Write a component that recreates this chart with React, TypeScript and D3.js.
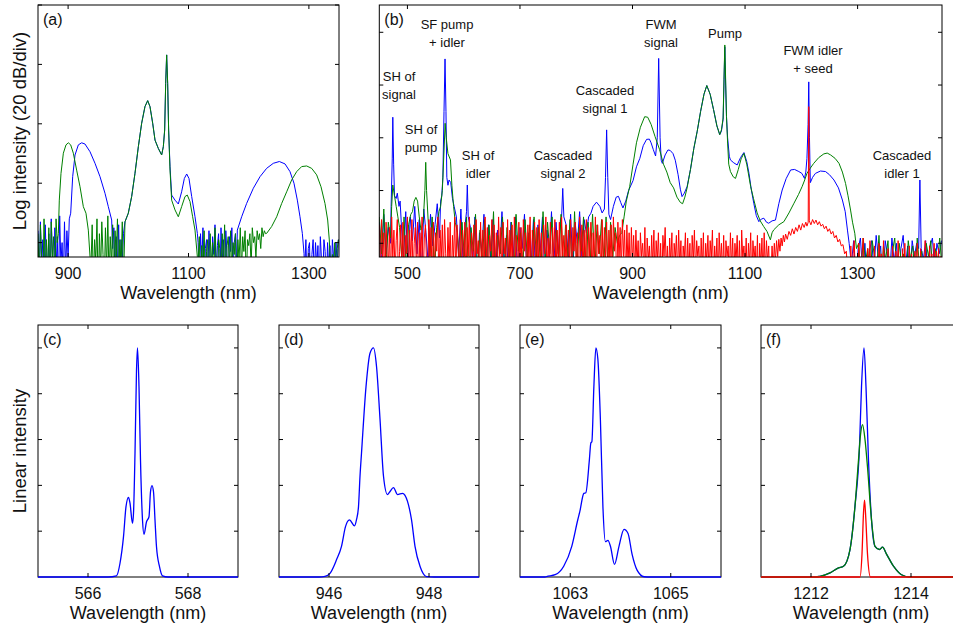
import React from 'react';
import * as d3 from 'd3';

type Pt = [number, number];

// noise runs: typed levels (dB below 0) on a regular wavelength grid
const run = (start: number, step: number, levels: number[]): Pt[] =>
  levels.map((v, i) => [start + i * step, -v]);

// ---------- panel (a): log spectra, 850-1350 nm ----------
const aBlueNoise1 = run(850, 2, [76, 92, 73, 88, 79, 95, 74, 86, 90, 77, 99, 72, 84, 93, 75, 89, 78, 96, 71, 87, 80, 94, 73, 90, 76, 85, 72]);
const aBlueLeft: Pt[] = [[904.3, -70.1], [907.6, -57.8], [911.5, -50.5], [917, -47.1], [922.5, -46.4], [928, -46.8], [936.4, -49.4], [944.7, -53.3], [953, -57.8], [961.3, -63.4], [966.8, -67.9], [972.4, -72.4]];
const aBlueNoise2 = run(974, 2, [82, 75, 92, 78, 88, 74, 96, 79, 86, 77]);
const aCentre: Pt[] = [[994.5, -73], [1000, -70.1], [1005.6, -64.5], [1011.1, -56.7], [1016.7, -47.7], [1022.2, -39.8], [1027.7, -34.2], [1032.2, -32.2], [1036, -34.2], [1040.5, -39.8], [1044.4, -45.5], [1049.9, -48.3], [1055.4, -50.5], [1058.2, -47.7], [1060.4, -42.1], [1062.1, -26.4], [1063.7, -16.8], [1065.4, -26.4], [1067, -42.1]];
const aBlueMid: Pt[] = [[1069.3, -54.4], [1072, -64], [1077.6, -65.7], [1083.1, -67], [1088.6, -62.9], [1093.1, -58.4], [1097, -56.9], [1100.8, -58.4], [1105.3, -64.5], [1110.8, -71.3], [1114.7, -76.9]];
const aBlueNoise3 = run(1116, 2, [80, 94, 77, 88, 75, 97, 82, 79, 91, 76, 86, 99, 78, 84, 74, 93, 81, 77, 96, 75, 87, 79, 92, 76, 85, 98, 78, 83, 75, 90, 80, 77, 88]);
const aBlueRight: Pt[] = [[1181.1, -75.8], [1188.3, -71.3], [1196.6, -66.8], [1207.7, -61.7], [1218.8, -57.8], [1229.8, -55], [1240.9, -53.3], [1250.9, -52.7], [1260.3, -53.5], [1268.6, -56.1], [1275.2, -60], [1280.8, -65.7], [1285.2, -71.3], [1289.1, -76.9], [1291.9, -83.6]];
const aBlueNoise4 = run(1293, 2, [90, 79, 95, 82, 80, 99, 84, 79, 92, 80, 88, 81, 96, 78, 86, 93, 79, 83, 97, 80, 89, 81, 94, 79, 85, 91, 80, 87, 79]);

const aGreenNoise1 = run(850, 2, [77, 93, 74, 85, 96, 72, 88, 79, 91, 75, 99, 73, 86, 78, 94, 72, 80]);
const aGreenLeft: Pt[] = [[883.8, -76.9], [885.4, -65.7], [888.2, -56.7], [892.1, -49.9], [896.5, -47.1], [900.4, -46.4], [904.3, -47.1], [908.7, -49.9], [914.2, -55.6], [919.8, -61.2], [925.3, -67.9], [929.7, -70.1], [933.6, -75.8], [936.4, -84.7]];
const aGreenNoise2 = run(938, 2, [88, 74, 95, 79, 86, 72, 98, 77, 90, 73, 84, 96, 75, 89, 71, 93, 78, 87, 74, 99, 76, 85, 72, 91, 79, 88, 73, 94]);
const aGreenMid: Pt[] = [[1069.3, -55.6], [1072, -65.7], [1077.6, -69], [1083.1, -71.3], [1088.6, -67.9], [1094.2, -64.5], [1098, -64], [1102.5, -66.2], [1106.9, -71.3], [1110.8, -75.8], [1114.7, -84.7]];
const aGreenNoise3 = run(1116, 2, [86, 78, 97, 81, 90, 76, 94, 83, 79, 99, 77, 88, 80, 93, 75, 85, 96, 79, 82, 91, 77, 87, 74, 95, 81, 78, 89, 76, 92, 80, 84, 77, 98, 79, 86, 75, 90, 78, 83, 76, 94, 79, 81, 77, 88, 75, 80, 78, 85, 76, 79, 77, 82, 75, 78, 76, 77]);
const aGreenRight: Pt[] = [[1229.8, -76.9], [1238.1, -74.6], [1246.5, -71.3], [1254.8, -66.8], [1263.1, -62.9], [1271.4, -58.9], [1279.7, -56.1], [1288, -54.4], [1296.3, -54.2], [1304.6, -55], [1312.9, -57.2], [1320.1, -61.2], [1326.7, -66.8], [1331.2, -72.4], [1333.9, -79.1], [1335, -84.7]];
const aGreenNoise4 = run(1337, 2, [95, 84, 90, 80, 97, 82, 79]);

// ---------- panel (b): log spectra, 450-1450 nm ----------
const bBlueNoise1 = run(450, 4, [72, 88, 69, 84, 74, 80]);
const bBlueSHs: Pt[] = [[471, -66], [473, -48], [474, -32.2], [475.5, -50], [477, -62], [480, -63], [482, -61], [485, -66], [487, -64]];
const bBlueNoise2 = run(489, 4, [72, 86, 68, 90, 70, 79, 66, 84, 71, 93, 67, 76, 88, 69, 81, 73, 65, 78]);
const bBlueSF: Pt[] = [[559, -64], [561, -62], [563, -55], [565, -30], [566.8, -10.1], [568.5, -30], [570, -55], [572, -58], [574, -56], [577, -57], [580, -63], [583, -66]];
const bBlueNoise3 = run(587, 4, [70, 85, 67, 88, 72]);
const bBlueSHi: Pt[] = [[605, -68], [606.4, -57.9], [608, -70]];
const bBlueNoise4 = run(612, 4, [74, 88, 70, 95, 76, 83, 69, 91, 73, 86, 71, 97, 75, 84, 68, 89, 77, 93, 72, 85, 70, 96, 74, 82, 69, 90, 76, 87, 71, 94, 73, 83, 70, 92, 75, 86, 68, 89, 72, 84, 71]);
const bBlueCs2: Pt[] = [[774, -70], [776, -59.2], [778, -70]];
const bBlueNoise5 = run(782, 4, [73, 86, 69, 90, 72, 80, 68, 85, 71, 76, 70]);
const bBlueMain: Pt[] = [[826, -68.6], [830, -66], [836, -64.4], [842, -66], [846, -68.5], [850, -67], [852, -55], [854, -37], [856, -55], [858, -69], [861, -71], [866, -66], [871, -62.5], [875, -62.2], [879, -64.5], [883, -66.6], [888, -64], [893, -60], [901, -56.2], [907, -51], [913, -47.8], [919, -43], [925, -40.6], [930, -40.5], [933, -41.9], [937, -44.5], [941, -46.9], [944, -40], [946.5, -9.9], [949, -40], [951, -48.5], [953, -49.7], [958, -46.5], [963, -44.6], [967, -44.8], [972, -46], [976, -48.5], [981, -54], [985, -59.5], [988, -62.3], [992, -61], [997, -58.5], [1003, -52], [1009, -44], [1015, -37.5], [1021, -30], [1027, -23.5], [1032, -20.2], [1038, -23.5], [1044, -29.3], [1050, -35.5], [1055, -38.8], [1058, -37.5], [1061, -33], [1062.5, -20], [1064, -5.5], [1065.5, -20], [1067, -32], [1069, -40], [1072, -47], [1074, -48.4], [1080, -49.5], [1086, -50.3], [1092, -47.5], [1098, -45.6], [1103, -49], [1107, -53.5], [1111, -59.5], [1115.5, -64.8], [1120, -69.5], [1124.5, -71.8], [1129, -70.8], [1133.4, -70.5], [1138, -72], [1142, -72.4], [1148, -71.5], [1154, -71.2], [1160, -65], [1166, -59.8], [1173, -55.5], [1181, -52.2], [1188, -52], [1195.6, -52.8], [1201, -53.5], [1205.6, -55.4], [1208, -53], [1210, -47.8], [1212, -35], [1213.2, -18.8], [1214.5, -40], [1216, -57], [1220, -55], [1225, -53.5], [1234, -52.6], [1243, -52.8], [1250, -54], [1258, -56], [1266, -59], [1273, -63.6], [1278, -68], [1282, -75], [1285, -80]];
const bBlueNoise6 = run(1289, 4, [88, 79, 95, 82, 78, 91, 80, 97, 83, 79, 90, 77, 86, 81, 99, 79, 84, 92, 78, 87, 80, 96, 82, 77, 89, 81, 94, 79, 85, 80]);
const bBlueCi1: Pt[] = [[1408.5, -82], [1410.7, -56], [1413, -82]];
const bBlueNoise7 = run(1417, 4, [86, 79, 93, 81, 78, 90, 80, 84, 79]);

const bGreenNoise1 = run(450, 4, [70, 84, 67, 89, 72, 78]);
const bGreenSHs: Pt[] = [[472, -66], [474, -57.9], [477, -62], [480, -66], [483, -70]];
const bGreenNoise2 = run(486, 4, [74, 86, 70, 91, 73, 69]);
const bGreenSHp: Pt[] = [[509, -68], [512, -64], [515, -62.6], [518, -64], [521, -70], [524, -75], [528, -72], [531, -60], [532.5, -49.3], [534, -60], [537, -72]];
const bGreenNoise3 = run(540, 4, [85, 70, 92, 74, 68]);
const bGreenSF: Pt[] = [[559, -66], [562, -60], [565, -45], [567, -34.5], [569, -40], [572, -46], [576.5, -48.4], [579, -58], [582, -66], [585, -72]];
const bGreenNoise4 = run(589, 4, [76, 90, 72, 85, 70, 97, 74, 83, 69, 92, 75, 88, 71, 94, 73, 86, 68, 99, 77, 84, 70, 91, 74, 87, 72, 95, 69, 83, 76, 90, 71, 86, 73, 98, 70, 85, 74, 92, 68, 88, 72, 84, 70, 96, 75, 87, 69, 91, 73, 85, 71, 94, 68, 89, 74, 83, 70, 97, 72, 86, 69, 90, 73, 84, 71, 88, 70, 93, 72, 85, 74, 80, 77]);
const bGreenMain: Pt[] = [[881, -76], [885, -70], [889, -64], [895, -58.5], [901, -50], [907, -41.9], [914, -36], [921.6, -32], [927, -32.2], [933, -34.9], [940, -39.5], [948, -44.4], [955, -50], [961, -53], [967, -57], [973, -59], [979, -62.5], [985, -64.5], [989, -65], [993, -62.5], [997, -59], [1003, -52], [1009, -44], [1015, -37.5], [1021, -30], [1027, -23.5], [1032, -20.2], [1038, -23.5], [1044, -29.3], [1050, -35.5], [1055, -38.8], [1058, -37], [1061, -32.5], [1062.5, -18], [1064, -4.8], [1065.5, -18], [1067, -32], [1069, -42], [1071, -50], [1074, -52.8], [1079, -54.8], [1083, -55.4], [1088, -52], [1093, -48], [1098, -45.9], [1103, -50], [1110, -58.5], [1115, -63], [1121.5, -68.5], [1127, -71.5], [1133, -73.6], [1139, -75.5], [1145, -78.7], [1148, -76], [1151, -74.9], [1160, -73], [1169, -71.8], [1178, -68.5], [1187, -64.8], [1195, -61.5], [1201.6, -58.4], [1206, -56], [1210, -53.5], [1216, -51.5], [1222, -49.7], [1231, -47.5], [1240, -46.1], [1246, -45.8], [1252, -46.5], [1260, -47.8], [1267, -49.7], [1273, -53], [1278.6, -57.3], [1283, -62], [1287.5, -67.4], [1291, -72], [1295, -76.2], [1298, -82]];
const bGreenNoise5 = run(1302, 4, [80, 93, 78, 87, 82, 98, 79, 85, 90, 77, 94, 81, 86, 79, 97, 83, 78, 91, 80, 88, 84, 96, 79, 86, 81, 92, 78, 89, 83, 99, 80, 85, 79, 93, 82, 87, 78, 90]);

// red (seed only) floor, 450-900 nm
const bRedNoise1 = run(450, 2, [
  73, 94, 71, 88, 76, 99, 72, 85, 90, 74, 97, 70, 86, 75, 92, 79, 71, 96, 83, 73,
  89, 72, 98, 77, 84, 70, 93, 75, 87, 71, 95, 80, 74, 91, 72, 99, 76, 86, 70, 94,
  78, 73, 88, 96, 71, 85, 74, 97, 72, 90, 76, 83, 70, 98, 75, 87, 73, 92, 71, 84,
  95, 74, 89, 72, 99, 77, 86, 70, 93, 73, 81, 96, 71, 88, 75, 91, 72, 97, 74, 85,
  70, 94, 76, 87, 73, 98, 71, 84, 79, 92, 72, 89, 75, 96, 70, 86, 74, 93, 77, 83,
  71, 99, 73, 88, 76, 91, 70, 85, 74, 97, 72, 84, 78, 95, 71, 90, 75, 87, 73, 98,
  70, 86, 77, 93, 72, 89, 74, 96, 71, 83, 76, 94, 73, 88, 70, 99, 75, 85, 72, 91,
  74, 97, 71, 87, 76, 92, 73, 84, 70, 95, 78, 89, 72, 98, 74, 86, 71, 93, 75, 88,
  72, 96, 70, 85, 77, 91, 73, 99, 75, 87, 71, 94, 74, 83, 72, 90, 76, 97, 70, 86,
  73, 92, 75, 88, 71, 98, 74, 85, 72, 95, 76, 89, 70, 93, 73, 84, 77, 97, 71, 90,
  74, 86, 72, 96, 75, 88, 73, 94, 70, 83, 76, 99, 72, 87, 74, 92, 71, 85, 75, 97,
  73, 89, 76, 94, 74, 88,
]);
// red floor, 902-1144 nm (slightly lower)
const bRedNoise2 = run(902, 2, [
  77, 93, 75, 88, 79, 97, 76, 85, 80, 91, 74, 99, 78, 86, 81, 94, 77, 89, 75, 96,
  79, 87, 76, 92, 80, 98, 77, 85, 74, 90, 81, 95, 78, 88, 76, 99, 80, 86, 77, 93,
  75, 89, 79, 97, 81, 86, 76, 94, 78, 91, 80, 99, 77, 87, 75, 92, 79, 85, 81, 96,
  78, 90, 76, 98, 80, 87, 77, 93, 79, 86, 75, 95, 81, 89, 78, 97, 76, 88, 80, 92,
  77, 99, 79, 85, 81, 94, 76, 90, 78, 96, 80, 87, 77, 93, 79, 98, 75, 86, 81, 91,
  78, 95, 80, 88, 76, 97, 79, 86, 81, 93, 77, 99, 80, 89, 78, 94, 76, 92, 79, 87,
  81, 96,
]);
const bRedHump: Pt[] = [[1146, -92], [1148, -81], [1150, -90], [1152, -80], [1154, -87], [1156, -79], [1158, -85], [1160, -78.5], [1162, -83], [1164, -78], [1166, -81], [1168, -77], [1170, -79.5], [1172, -76.5], [1175, -78.5], [1178, -75.5], [1181, -77], [1184, -74.5], [1187, -76.5], [1190, -74], [1193, -75.5], [1196, -73], [1199, -75], [1202, -72.5], [1205, -74], [1208, -72], [1210, -73.5], [1212.2, -72], [1213.2, -28.2], [1214.2, -71.5], [1217, -73], [1220, -71], [1223, -72.5], [1226, -71.2], [1229, -73], [1232, -71.8], [1235, -73.5], [1238, -72.8], [1241, -74.5], [1244, -73.5], [1247, -75.5], [1250, -74.5], [1253, -76.5], [1256, -75.5], [1259, -78], [1262, -77], [1265, -79.5], [1268, -78.5], [1271, -81], [1274, -80.5], [1277, -84], [1280, -83], [1282, -90]];
const bRedNoise3 = run(1286, 2, [
  95, 81, 99, 84, 79, 92, 86, 100, 80, 89, 97, 83, 78, 94, 88, 99, 82, 91, 79, 96,
  85, 100, 81, 93, 87, 98, 80, 90, 84, 97, 79, 92, 88, 100, 82, 95, 86, 99, 81, 89,
  96, 83, 100, 79, 91, 85, 98, 82, 94, 80, 99, 87, 93, 81, 97, 84, 90, 100, 83, 95,
  80, 88, 99, 82, 94, 86, 100, 79, 91, 85, 97, 81, 93, 84, 98, 80, 90, 83, 96, 82,
  99, 85, 92,
]);

// ---------- panels (c)-(f): linear zooms on single lines ----------
const cBlue: Pt[] = [[565, 0], [566.4, 0], [566.57, 0.005], [566.64, 0.06], [566.71, 0.176], [566.76, 0.307], [566.81, 0.348], [566.84, 0.322], [566.89, 0.234], [566.91, 0.278], [566.94, 0.54], [566.97, 0.9], [566.99, 1.0], [567.02, 0.83], [567.05, 0.51], [567.09, 0.249], [567.12, 0.186], [567.17, 0.241], [567.22, 0.263], [567.25, 0.372], [567.28, 0.399], [567.31, 0.372], [567.34, 0.249], [567.37, 0.132], [567.43, 0.045], [567.49, 0.005], [567.6, 0], [569, 0]];
const dBlue: Pt[] = [[945, 0], [945.8, 0], [945.92, 0.003], [946.02, 0.016], [946.15, 0.075], [946.25, 0.134], [946.33, 0.22], [946.41, 0.249], [946.51, 0.223], [946.55, 0.25], [946.59, 0.307], [946.62, 0.44], [946.65, 0.54], [946.74, 0.83], [946.82, 0.977], [946.89, 1.0], [946.95, 0.92], [947.02, 0.69], [947.09, 0.44], [947.17, 0.36], [947.21, 0.37], [947.29, 0.39], [947.37, 0.36], [947.47, 0.365], [947.57, 0.33], [947.65, 0.25], [947.72, 0.134], [947.82, 0.047], [947.95, 0.002], [948.1, 0], [949, 0]];
const eBlue: Pt[] = [[1062, 0], [1062.5, 0], [1062.53, 0.002], [1062.7, 0.01], [1062.87, 0.047], [1063.03, 0.134], [1063.15, 0.25], [1063.19, 0.285], [1063.27, 0.365], [1063.31, 0.368], [1063.38, 0.51], [1063.41, 0.585], [1063.43, 0.59], [1063.47, 0.83], [1063.51, 1.0], [1063.55, 0.95], [1063.6, 0.686], [1063.65, 0.307], [1063.7, 0.154], [1063.75, 0.16], [1063.8, 0.134], [1063.88, 0.055], [1063.97, 0.134], [1064.07, 0.208], [1064.15, 0.19], [1064.23, 0.1], [1064.33, 0.03], [1064.47, 0.001], [1064.6, 0], [1066, 0]];
const fBlue: Pt[] = [[1211, 0], [1212.1, 0], [1212.18, 0.003], [1212.38, 0.018], [1212.55, 0.04], [1212.65, 0.047], [1212.78, 0.12], [1212.88, 0.31], [1212.97, 0.57], [1213.01, 0.83], [1213.06, 1.0], [1213.1, 0.83], [1213.15, 0.51], [1213.21, 0.25], [1213.28, 0.134], [1213.37, 0.12], [1213.43, 0.13], [1213.51, 0.1], [1213.65, 0.047], [1213.81, 0.01], [1213.98, 0], [1215, 0]];
const fGreen: Pt[] = [[1211, 0], [1212.1, 0], [1212.18, 0.003], [1212.38, 0.018], [1212.55, 0.04], [1212.65, 0.047], [1212.78, 0.12], [1212.88, 0.31], [1212.95, 0.51], [1212.99, 0.62], [1213.03, 0.665], [1213.08, 0.6], [1213.13, 0.48], [1213.21, 0.25], [1213.28, 0.134], [1213.37, 0.12], [1213.43, 0.13], [1213.51, 0.1], [1213.65, 0.047], [1213.81, 0.01], [1213.98, 0], [1215, 0]];
const fRed: Pt[] = [[1211, 0], [1212.98, 0], [1213.02, 0.1], [1213.05, 0.28], [1213.07, 0.336], [1213.09, 0.28], [1213.13, 0.1], [1213.19, 0], [1215, 0]];

const logTicks = [-80, -60, -40, -20, 0];
const linTicks = [0.2, 0.4, 0.6, 0.8, 1.0];

const annotations = [
  { lines: ['SH of', 'signal'], x: 399, y: 81 },
  { lines: ['SF pump', '+ idler'], x: 447, y: 29 },
  { lines: ['SH of', 'pump'], x: 421, y: 134 },
  { lines: ['SH of', 'idler'], x: 478, y: 160 },
  { lines: ['Cascaded', 'signal 2'], x: 563, y: 160 },
  { lines: ['Cascaded', 'signal 1'], x: 605, y: 95 },
  { lines: ['FWM', 'signal'], x: 661, y: 29 },
  { lines: ['Pump'], x: 725, y: 38 },
  { lines: ['FWM idler', '+ seed'], x: 813, y: 55 },
  { lines: ['Cascaded', 'idler 1'], x: 902, y: 160 },
];

const BLUE = '#0000ff';
const GREEN = '#008000';
const RED = '#ff0000';
const FONT = '"Liberation Sans", Arial, Helvetica, sans-serif';

type Series = { pts: Pt[]; color: string };
type Box = { l: number; r: number; t: number; b: number };

function Panel({ id, box, xDomain, yDomain, xTicks, yTicks, series, tag, smooth, children }: {
  id: string; box: Box; xDomain: [number, number]; yDomain: [number, number];
  xTicks: number[]; yTicks: number[]; series: Series[]; tag: string; smooth?: boolean;
  children?: React.ReactNode;
}) {
  const x = d3.scaleLinear().domain(xDomain).range([box.l, box.r]);
  const y = d3.scaleLinear().domain(yDomain).range([box.b, box.t]);
  const line = d3.line<Pt>()
    .x(d => x(d[0]))
    .y(d => y(d[1]))
    .curve(smooth ? d3.curveMonotoneX : d3.curveLinear);
  const tl = 4;

  const frame = (
    <rect x={box.l} y={box.t} width={box.r - box.l} height={box.b - box.t} fill="none" stroke="#000" strokeWidth={1} />
  );
  const data = (
    <g clipPath={`url(#${id})`}>
      {series.map((s, i) => (
        <path key={i} d={line(s.pts) || ''} fill="none" stroke={s.color} strokeWidth={smooth ? 1.3 : 1} strokeLinejoin="round" />
      ))}
    </g>
  );

  return (
    <g>
      <defs>
        <clipPath id={id}>
          <rect x={box.l} y={box.t - 1} width={box.r - box.l} height={box.b - box.t + (smooth ? 2 : 1)} />
        </clipPath>
      </defs>
      {smooth ? frame : null}
      {data}
      {!smooth ? frame : null}
      {xTicks.map(t => (
        <g key={'x' + t}>
          <line x1={x(t)} x2={x(t)} y1={box.b} y2={box.b - tl} stroke="#000" />
          <line x1={x(t)} x2={x(t)} y1={box.t} y2={box.t + tl} stroke="#000" />
          <text x={x(t)} y={box.b + 21.5} textAnchor="middle" fontSize={16} fontFamily={FONT} fill="#111">{t}</text>
        </g>
      ))}
      {yTicks.map(t => (
        <g key={'y' + t}>
          <line x1={box.l} x2={box.l + tl} y1={y(t)} y2={y(t)} stroke="#000" />
          <line x1={box.r} x2={box.r - tl} y1={y(t)} y2={y(t)} stroke="#000" />
        </g>
      ))}
      <text x={(box.l + box.r) / 2} y={box.b + 41.5} textAnchor="middle" fontSize={18} fontFamily={FONT} fill="#111">Wavelength (nm)</text>
      <text x={box.l + 5} y={box.t + 20} fontSize={16} fontFamily={FONT} fill="#111">{tag}</text>
      {children}
    </g>
  );
}

export default function App() {
  const aBlue = [...aBlueNoise1, ...aBlueLeft, ...aBlueNoise2, ...aCentre, ...aBlueMid, ...aBlueNoise3, ...aBlueRight, ...aBlueNoise4];
  const aGreen = [...aGreenNoise1, ...aGreenLeft, ...aGreenNoise2, ...aCentre, ...aGreenMid, ...aGreenNoise3, ...aGreenRight, ...aGreenNoise4];
  const bBlue = [...bBlueNoise1, ...bBlueSHs, ...bBlueNoise2, ...bBlueSF, ...bBlueNoise3, ...bBlueSHi, ...bBlueNoise4, ...bBlueCs2, ...bBlueNoise5, ...bBlueMain, ...bBlueNoise6, ...bBlueCi1, ...bBlueNoise7];
  const bGreen = [...bGreenNoise1, ...bGreenSHs, ...bGreenNoise2, ...bGreenSHp, ...bGreenNoise3, ...bGreenSF, ...bGreenNoise4, ...bGreenMain, ...bGreenNoise5];
  const bRed = [...bRedNoise1, ...bRedNoise2, ...bRedHump, ...bRedNoise3];

  const top = { t: 5, b: 257 };
  const bot = { t: 325, b: 577 };

  return (
    <svg width={953} height={624} style={{ position: 'absolute', left: 0, top: 0, background: '#fff' }}>
      <rect width={953} height={624} fill="#fff" />
      <text transform="translate(26,131) rotate(-90)" textAnchor="middle" fontSize={18.5} fontFamily={FONT} fill="#111">Log intensity (20 dB/div)</text>
      <text transform="translate(26,451) rotate(-90)" textAnchor="middle" fontSize={18.5} fontFamily={FONT} fill="#111">Linear intensity</text>

      <Panel id="pa" box={{ l: 38, r: 339, ...top }} xDomain={[850, 1350]} yDomain={[-84.85, 0]}
        xTicks={[900, 1100, 1300]} yTicks={logTicks} tag="(a)"
        series={[{ pts: aBlue, color: BLUE }, { pts: aGreen, color: GREEN }]} />

      <Panel id="pb" box={{ l: 379.3, r: 942, ...top }} xDomain={[450, 1450]} yDomain={[-85.2, 10.35]}
        xTicks={[500, 700, 900, 1100, 1300]} yTicks={logTicks} tag="(b)"
        series={[{ pts: bBlue, color: BLUE }, { pts: bGreen, color: GREEN }, { pts: bRed, color: RED }]}>
        {annotations.map((a, i) => (
          <text key={i} textAnchor="middle" fontSize={13} fontFamily={FONT} fill="#111">
            {a.lines.map((s, j) => (
              <tspan key={j} x={a.x} y={a.y + j * 18}>{s}</tspan>
            ))}
          </text>
        ))}
      </Panel>

      <Panel id="pc" box={{ l: 38, r: 238, ...bot }} xDomain={[565, 569]} yDomain={[0, 1.1]}
        xTicks={[566, 568]} yTicks={linTicks} tag="(c)" smooth
        series={[{ pts: cBlue, color: BLUE }]} />
      <Panel id="pd" box={{ l: 279, r: 479, ...bot }} xDomain={[945, 949]} yDomain={[0, 1.1]}
        xTicks={[946, 948]} yTicks={linTicks} tag="(d)" smooth
        series={[{ pts: dBlue, color: BLUE }]} />
      <Panel id="pe" box={{ l: 520, r: 721, ...bot }} xDomain={[1062, 1066]} yDomain={[0, 1.1]}
        xTicks={[1063, 1065]} yTicks={linTicks} tag="(e)" smooth
        series={[{ pts: eBlue, color: BLUE }]} />
      <Panel id="pf" box={{ l: 761, r: 961, ...bot }} xDomain={[1211, 1215]} yDomain={[0, 1.1]}
        xTicks={[1212, 1214]} yTicks={linTicks} tag="(f)" smooth
        series={[{ pts: fBlue, color: BLUE }, { pts: fGreen, color: GREEN }, { pts: fRed, color: RED }]} />
    </svg>
  );
}
